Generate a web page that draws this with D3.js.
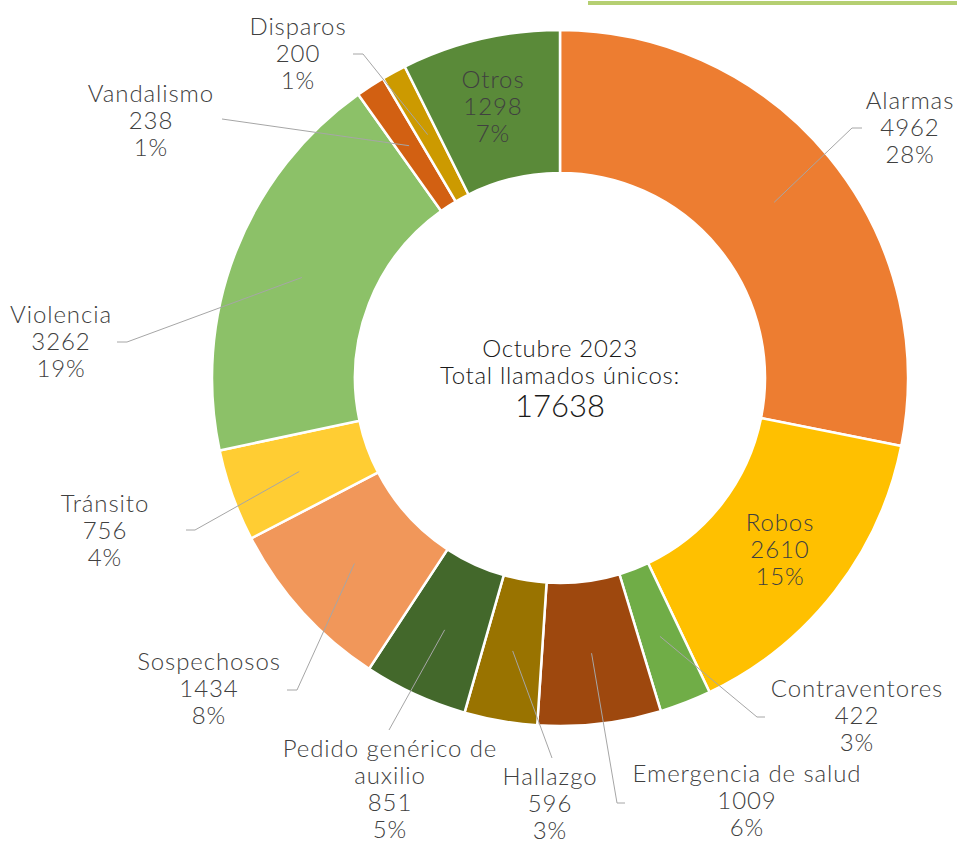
<!DOCTYPE html>
<html>
<head>
<meta charset="utf-8">
<script src="https://cdn.jsdelivr.net/npm/d3@7"></script>
<style>
  body { margin: 0; background: #fff; }
  svg text { font-family: Lato, "Open Sans", sans-serif; font-weight: 300; }
</style>
</head>
<body>
<div id="chart"></div>
<script>
// datos del gráfico
var categories = ["Alarmas", "Robos", "Contraventores", "Emergencia de salud", "Hallazgo",
  "Pedido genérico de auxilio", "Sospechosos", "Tránsito", "Violencia", "Vandalismo", "Disparos", "Otros"];
var values = [4962, 2610, 422, 1009, 596, 851, 1434, 756, 3262, 238, 200, 1298];
var percents = ["28%", "15%", "3%", "6%", "3%", "5%", "8%", "4%", "19%", "1%", "1%", "7%"];
var titleLines = ["Octubre 2023", "Total llamados únicos:"];
var total = "17638";

var colors = ["#ED7D31", "#FFC000", "#70AD47", "#9E480E", "#997300", "#43682B",
  "#F1975A", "#FFCD33", "#8CC168", "#D26012", "#CC9A00", "#5A8A39"];

// ubicación manual de etiquetas (como en Excel): x centro, y línea base, codo y fin de la guía
var labelLayout = [
  {x: 910, y: 109, elbow: [852, 128], end: [862, 128]},
  {x: 780, y: 531, inside: true},
  {x: 857, y: 697, elbow: [757, 717], end: [765, 717]},
  {x: 747, y: 782, elbow: [617, 803], end: [625, 803]},
  {x: 550, y: 785, elbow: [552, 758], end: null},
  {x: 390, y: 757, wrap: ["Pedido genérico de", "auxilio"], elbow: [389, 730], end: null},
  {x: 209, y: 670, elbow: [297, 690], end: [287, 690]},
  {x: 105, y: 512, elbow: [195, 530], end: [186, 530]},
  {x: 61, y: 323, elbow: [127, 342], end: [117, 342]},
  {x: 151, y: 102, elbow: [222, 119], end: null},
  {x: 298, y: 35, elbow: [363, 54], end: [353, 54]},
  {x: 493, y: 88, inside: true}
];

var W = 957, H = 843;
var cx = 560, cy = 378, rOuter = 348, rInner = 205;
var lineH = 27;

var svg = d3.select("#chart").append("svg")
  .attr("width", W).attr("height", H);

// línea verde superior
svg.append("line")
  .attr("x1", 588).attr("x2", W).attr("y1", 3).attr("y2", 3)
  .attr("stroke", "#B5CF72").attr("stroke-width", 4);

var g = svg.append("g").attr("transform", "translate(" + cx + "," + cy + ")");

var pie = d3.pie().sort(null).value(d => d);
var arcs = pie(values);
var arc = d3.arc().innerRadius(rInner).outerRadius(rOuter);
var mid = d3.arc().innerRadius(277).outerRadius(277);

g.selectAll("path.slice")
  .data(arcs)
  .enter()
  .append("path")
  .attr("class", "slice")
  .attr("d", arc)
  .attr("fill", (d, i) => colors[i])
  .attr("stroke", "#fff")
  .attr("stroke-width", 2.5);

// guías
arcs.forEach(function(d, i) {
  var L = labelLayout[i];
  if (L.inside) return;
  var c = mid.centroid(d);
  var pts = [[c[0] + cx, c[1] + cy], L.elbow];
  if (L.end) pts.push(L.end);
  svg.append("path")
    .attr("d", d3.line()(pts))
    .attr("fill", "none")
    .attr("stroke", "#A6A6A6")
    .attr("stroke-width", 1);
});

// etiquetas
arcs.forEach(function(d, i) {
  var L = labelLayout[i];
  var lines = (L.wrap || [categories[i]]).concat([String(values[i]), percents[i]]);
  var t = svg.append("text")
    .attr("text-anchor", "middle")
    .attr("fill", "#404040")
    .style("font-size", "24px")
    .style("letter-spacing", "0.9px");
  lines.forEach(function(s, k) {
    t.append("tspan").attr("x", L.x).attr("y", L.y + k * lineH).text(s);
  });
});

// texto central
titleLines.forEach(function(s, k) {
  svg.append("text")
    .attr("x", cx).attr("y", 357 + k * 27)
    .attr("text-anchor", "middle")
    .attr("fill", "#1a1a1a")
    .style("font-size", "24px")
    .style("letter-spacing", "0.7px")
    .text(s);
});
svg.append("text")
  .attr("x", cx).attr("y", 417)
  .attr("text-anchor", "middle")
  .attr("fill", "#1a1a1a")
  .style("font-size", "31px")
  .text(total);
</script>
</body>
</html>
